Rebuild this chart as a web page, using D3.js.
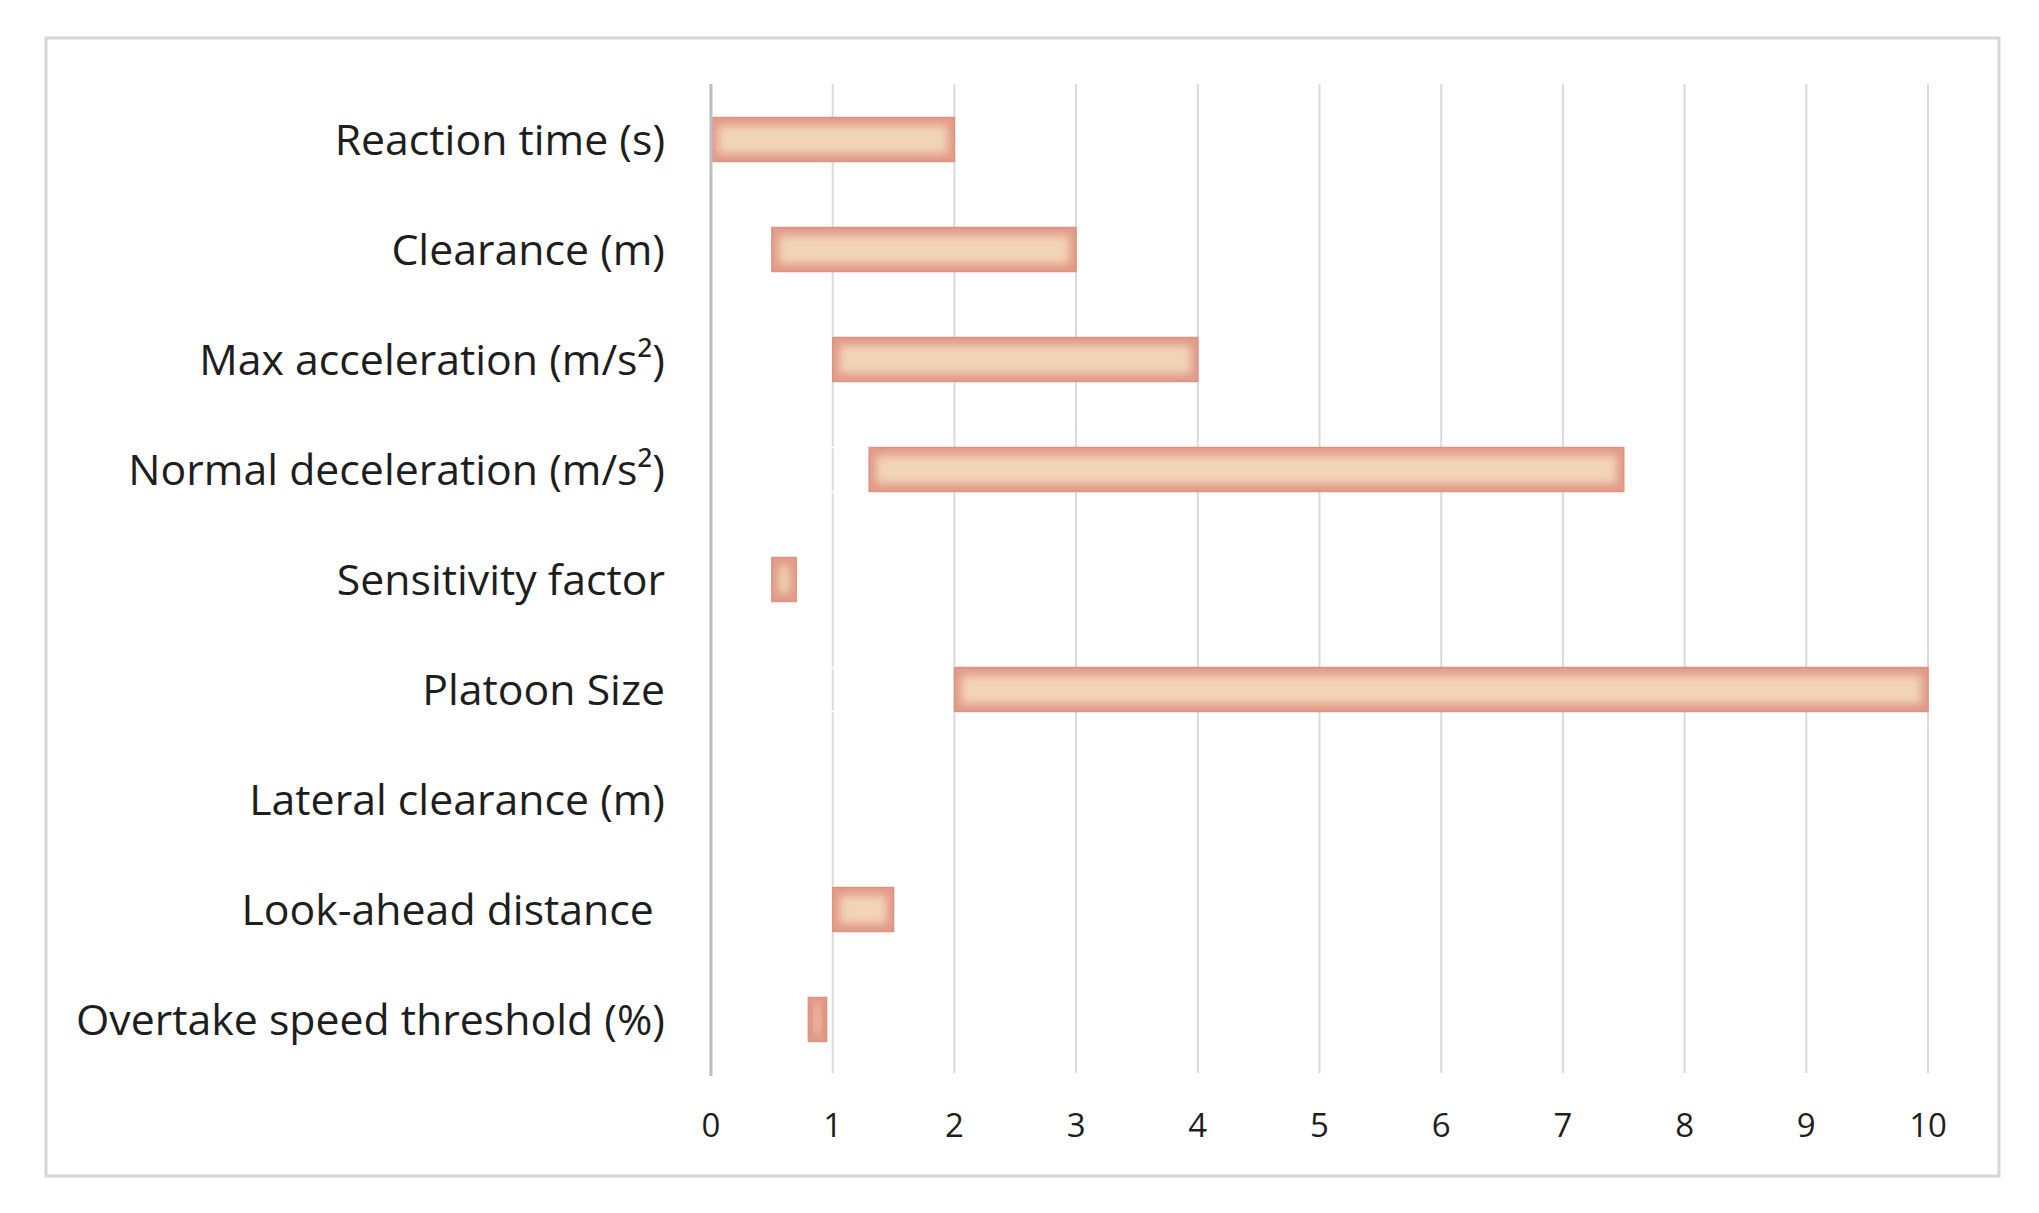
<!DOCTYPE html>
<html>
<head>
<meta charset="utf-8">
<script src="https://cdn.jsdelivr.net/npm/d3@7"></script>
<style>
  body { margin: 0; background: #fff; }
  text { font-family: "Open Sans", Lato, sans-serif; fill: #1e1e1e; }
</style>
</head>
<body>
<div id="chart"></div>
<script>
// parameter ranges: bars run from start to end
var categories = [
  "Reaction time (s)",
  "Clearance (m)",
  "Max acceleration (m/s\u00b2)",
  "Normal deceleration (m/s\u00b2)",
  "Sensitivity factor",
  "Platoon Size",
  "Lateral clearance (m)",
  "Look-ahead distance ",
  "Overtake speed threshold (%)"
];
var starts = [0, 0.5, 1, 1.3, 0.5, 2, 0, 1, 0.8];
var ends   = [2, 3, 4, 7.5, 0.7, 10, 0, 1.5, 0.95];
var ticks  = [0, 1, 2, 3, 4, 5, 6, 7, 8, 9, 10];

var W = 2039, H = 1213;

var svg = d3.select('#chart').append('svg')
    .attr('width', W)
    .attr('height', H);

var defs = svg.append('defs');
defs.append('filter').attr('id', 'soft')
    .attr('x', '-50%').attr('y', '-50%').attr('width', '200%').attr('height', '200%')
  .append('feGaussianBlur').attr('stdDeviation', 4.5);

// chart frame
svg.append('rect')
    .attr('x', 46).attr('y', 38)
    .attr('width', 1953).attr('height', 1138)
    .attr('fill', '#fff')
    .attr('stroke', '#d6d6d6')
    .attr('stroke-width', 3);

var x = d3.scaleLinear().domain([0, 10]).range([711, 1928]);
var y = d3.scaleBand().domain(categories).range([84.5, 1074.5])
    .paddingInner(0.6).paddingOuter(0.3);

// vertical gridlines
svg.append('g').selectAll('line')
    .data(ticks.slice(1))
  .enter().append('line')
    .attr('x1', function(d) { return x(d); })
    .attr('x2', function(d) { return x(d); })
    .attr('y1', 84).attr('y2', 1073)
    .attr('stroke', '#dadada')
    .attr('stroke-width', 2);

var rows = categories.map(function(c, i) {
  return { name: c, start: starts[i], end: ends[i], i: i };
});

// invisible base series (white outline only, like the spreadsheet chart)
svg.append('g').selectAll('rect')
    .data(rows.filter(function(d) { return d.start > 0; }))
  .enter().append('rect')
    .attr('x', x(0))
    .attr('y', function(d) { return y(d.name); })
    .attr('width', function(d) { return x(d.start) - x(0); })
    .attr('height', y.bandwidth())
    .attr('fill', 'none')
    .attr('stroke', '#fff')
    .attr('stroke-width', 2);

// range bars
var bars = svg.append('g').selectAll('g')
    .data(rows.filter(function(d) { return d.end > d.start; }))
  .enter().append('g');

bars.each(function(d) {
  defs.append('clipPath').attr('id', 'clip' + d.i)
    .append('rect')
      .attr('x', x(d.start)).attr('y', y(d.name))
      .attr('width', x(d.end) - x(d.start))
      .attr('height', y.bandwidth());
});

bars.append('rect')
    .attr('x', function(d) { return x(d.start); })
    .attr('y', function(d) { return y(d.name); })
    .attr('width', function(d) { return x(d.end) - x(d.start); })
    .attr('height', y.bandwidth())
    .attr('fill', '#e29a88');

bars.append('rect')
    .attr('clip-path', function(d) { return 'url(#clip' + d.i + ')'; })
    .attr('filter', 'url(#soft)')
    .attr('x', function(d) { return x(d.start) + 7; })
    .attr('y', function(d) { return y(d.name) + 8; })
    .attr('width', function(d) { return Math.max(2, x(d.end) - x(d.start) - 14); })
    .attr('height', y.bandwidth() - 16)
    .attr('fill', '#f2d4b6');

bars.append('rect')
    .attr('x', function(d) { return x(d.start); })
    .attr('y', function(d) { return y(d.name); })
    .attr('width', function(d) { return x(d.end) - x(d.start); })
    .attr('height', y.bandwidth())
    .attr('fill', 'none')
    .attr('stroke', '#dc9482')
    .attr('stroke-width', 1.5);

// value axis line at zero
svg.append('line')
    .attr('x1', x(0)).attr('x2', x(0))
    .attr('y1', 84).attr('y2', 1076)
    .attr('stroke', '#bdbdbd')
    .attr('stroke-width', 3);

// category labels
var labels = svg.append('g').selectAll('text')
    .data(categories)
  .enter().append('text')
    .attr('x', 665)
    .attr('y', function(d) { return y(d) + y.bandwidth() / 2; })
    .attr('dy', '0.36em')
    .attr('text-anchor', 'end')
    .style('white-space', 'pre')
    .style('font-size', '40px')
    .text(function(d) { return d; });

// fit the longest label to the width it has in the original
var longest = labels.filter(function(d) { return d === categories[8]; }).node();
var fs = 40 * 589 / longest.getComputedTextLength();
fs = Math.min(44, Math.max(34, fs));
labels.style('font-size', fs + 'px');

// tick labels
svg.append('g').selectAll('text')
    .data(ticks)
  .enter().append('text')
    .attr('x', function(d) { return x(d); })
    .attr('y', 1137)
    .attr('text-anchor', 'middle')
    .style('font-size', '33px')
    .text(function(d) { return d; });
</script>
</body>
</html>
